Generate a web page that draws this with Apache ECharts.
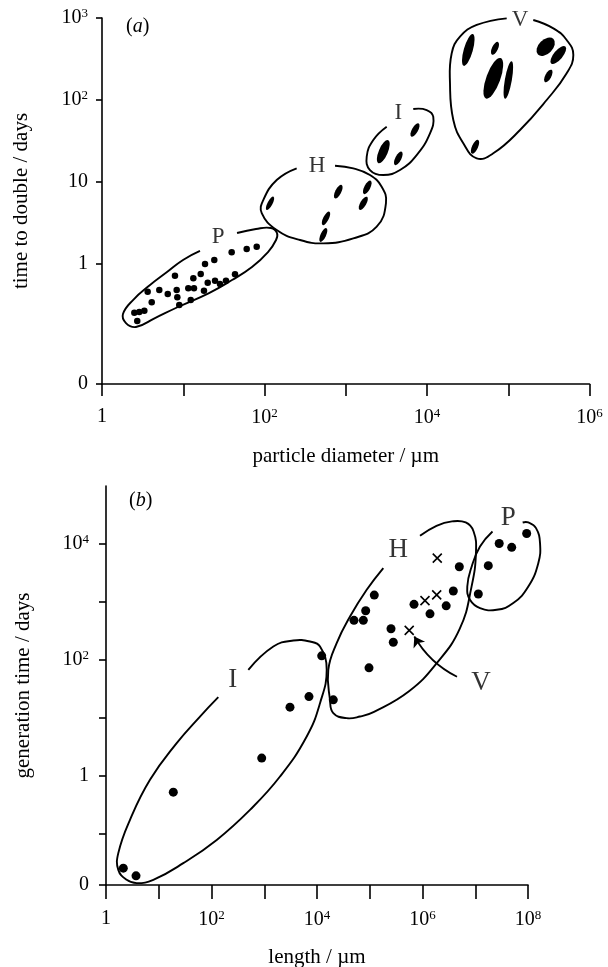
<!DOCTYPE html>
<html><head><meta charset="utf-8">
<script src="https://cdn.jsdelivr.net/npm/echarts@6/dist/echarts.min.js"></script>
<style>html,body{margin:0;padding:0;background:#fff}#c{width:608px;height:967px}</style>
</head><body><div id="c"></div>
<script>
// ---------- DATA (all values are log10 of the plotted quantity) ----------
// Panel (a): particle diameter (µm) vs time to double (days)
const aXLabelValues = [0, 2, 4, 6];
const aYMin = -1.463;               // position of the "0" label
const aYTickValues = [aYMin, 0, 1, 2, 3];
const pDotsA = [[0.434,-0.695],[0.398,-0.594],[0.459,-0.585],[0.521,-0.570],[0.612,-0.467],[0.562,-0.338],
  [0.705,-0.317],[0.809,-0.366],[0.898,-0.143],[0.919,-0.317],[0.927,-0.406],[0.951,-0.5],[1.062,-0.296],
  [1.132,-0.296],[1.092,-0.439],[1.124,-0.174],[1.215,-0.122],[1.268,0],[1.255,-0.326],[1.301,-0.228],
  [1.382,0.049],[1.391,-0.204],[1.452,-0.244],[1.526,-0.204],[1.637,-0.126],[1.596,0.143],[1.781,0.183],[1.904,0.211]];
const hBlobsA = [[2.068,0.740],[2.908,0.882],[2.757,0.557],[2.724,0.354],[3.265,0.935],[3.216,0.740]];
const iBlobsA = [[3.462,1.370],[3.647,1.289],[3.852,1.634]];
const vBlobsA = [[4.508,2.610],[4.837,2.630],[4.816,2.265],[5.001,2.244],[5.461,2.650],[5.616,2.549],[5.493,2.293],[4.591,1.430]];
const pOutlineA = [[1.206,0.159],[0.997,0.049],[0.800,-0.098],[0.591,-0.256],[0.382,-0.439],[0.258,-0.610],[0.295,-0.720],
  [0.418,-0.768],[0.652,-0.659],[0.935,-0.524],[1.317,-0.354],[1.600,-0.195],[1.846,-0.037],[2.043,0.146],[2.142,0.293],
  [2.154,0.378],[2.080,0.439],[1.895,0.427],[1.662,0.378]];
const hOutlineA = [[2.396,1.167],[2.150,1.024],[1.985,0.780],[1.966,0.622],[2.150,0.415],[2.437,0.293],[2.724,0.252],
  [3.093,0.313],[3.381,0.455],[3.495,0.744],[3.442,0.943],[3.298,1.085],[3.093,1.167],[2.868,1.199]];
const iOutlineA = [[3.504,1.674],[3.339,1.512],[3.258,1.309],[3.298,1.146],[3.462,1.085],[3.668,1.146],[3.873,1.329],
  [4.037,1.594],[4.077,1.796],[3.996,1.878],[3.831,1.890]];
const vOutlineA = [[4.981,2.996],[4.612,2.915],[4.406,2.772],[4.304,2.570],[4.283,2.204],[4.324,1.756],[4.447,1.472],
  [4.612,1.289],[4.816,1.350],[5.145,1.634],[5.473,2.0],[5.719,2.326],[5.801,2.549],[5.719,2.732],[5.555,2.874],[5.308,2.976]];
const groupLabelsA = [{name:'P', value:[1.428,0.329]},{name:'H', value:[2.646,1.195]},{name:'I', value:[3.647,1.841]},{name:'V', value:[5.145,2.976]}];

// Panel (b): length (µm) vs generation time (days)
const bXLabelValues = [0, 2, 4, 6, 8];
const bYMin = -1.89;
const bYTickValues = [bYMin, -1, 0, 1, 2, 3, 4];
const bYLabelValues = [bYMin, 0, 2, 4];
const iDotsB = [[0.328,-1.599],[0.569,-1.732],[1.276,-0.287],[2.952,0.301],[3.488,1.181],[3.848,1.364],[4.089,2.067]];
const hDotsB = [[4.309,1.307],[4.986,1.860],[5.446,2.301],[5.403,2.534],[4.701,2.680],[4.878,2.680],[4.923,2.845],
  [5.086,3.116],[5.839,2.957],[6.142,2.793],[6.449,2.931],[6.584,3.187],[6.698,3.605]];
const pDotsB = [[7.058,3.135],[7.247,3.625],[7.454,4.007],[7.691,3.941],[7.975,4.180]];
const vCrossesB = [[6.280,3.755],[6.047,3.021],[6.269,3.121],[5.748,2.508]];
const iOutlineB = [[2.129,1.354],[1.782,1.019],[1.340,0.560],[0.834,-0.074],[0.455,-0.765],[0.233,-1.340],[0.233,-1.629],
  [0.392,-1.801],[0.582,-1.858],[0.897,-1.801],[1.465,-1.513],[2.099,-1.111],[2.730,-0.592],[3.299,-0.017],[3.805,0.674],
  [4.057,1.250],[4.184,1.826],[4.057,2.228],[3.867,2.314],[3.551,2.332],[3.172,2.228],[2.698,1.826]];
const hOutlineB = [[5.257,3.582],[4.942,3.207],[4.626,2.746],[4.373,2.287],[4.214,1.826],[4.246,1.307],[4.309,1.078],
  [4.563,0.991],[4.815,1.019],[5.081,1.100],[5.744,1.456],[6.265,1.936],[6.707,2.537],[6.929,3.259],[7.014,3.863],
  [6.967,4.219],[6.819,4.370],[6.559,4.389],[6.265,4.313],[5.953,4.140]];
const pOutlineB = [[7.327,4.214],[7.090,3.955],[6.933,3.610],[6.849,3.264],[6.900,3.035],[7.090,2.891],[7.407,2.862],
  [7.721,2.978],[8.006,3.264],[8.195,3.668],[8.228,4.014],[8.152,4.273],[8.006,4.370],[7.899,4.370]];
const groupLabelsB = [{name:'H', value:[5.541,3.898]},{name:'I', value:[2.402,1.653]},{name:'P', value:[7.627,4.446]},{name:'V', value:[7.109,1.596]}];
const vArrowB = [[6.654,1.705],[5.845,2.401]];

// ---------- STYLE ----------
const FONT = "'Liberation Serif','DejaVu Serif',serif";
// blob shapes: [width px, length px, lean deg (clockwise)]
const blobShapeA = [[5,15,28],[6,15,27],[5.5,15,27],[5.5,15,25],[6,15,27],[6,15,30],
  [9,25,23],[6,15,27],[6,15,30],
  [9,33,16],[6,14,25],[14,43,20],[7,38,10],[14,22,45],[9,22,40],[6,14,28],[6,15,25]];

const rich = {
  b: {fontFamily: FONT, fontSize: 20, color: '#000', lineHeight: 21, verticalAlign: 'middle'},
  s: {fontFamily: FONT, fontSize: 13, color: '#000', lineHeight: 14, verticalAlign: 'top'}
};
function expFmt(minVal) {
  return function (v) {
    if (Math.abs(v - minVal) < 1e-6) return '0';
    if (v === 0) return '1';
    if (v === 1) return '10';
    return '{b|10}{s|' + v + '}';
  };
}
const axisLine = {show: true, onZero: false, lineStyle: {color: '#000', width: 1.6}};
const nameStyle = {fontFamily: FONT, fontSize: 21, color: '#000'};
const lblBase = {fontFamily: FONT, fontSize: 20, color: '#000', rich: rich};

const allBlobs = hBlobsA.concat(iBlobsA, vBlobsA).map(function (p, i) {
  const s = blobShapeA[i];
  return {value: p, symbolSize: [s[0], s[1]], symbolRotate: -s[2]};
});

function outline(pts, xi) {
  return {type: 'custom', xAxisIndex: xi, yAxisIndex: xi, data: [0], silent: true, z: 3, clip: false,
    renderItem: function (params, api) {
      return {type: 'polyline', shape: {points: pts.map(function (p) { return api.coord(p); }), smooth: 0.45},
        style: {stroke: '#000', lineWidth: 1.9, fill: null}};
    }};
}
function labels(data, xi, size) {
  return {type: 'scatter', xAxisIndex: xi, yAxisIndex: xi, data: data, symbolSize: 1, clip: false,
    itemStyle: {color: 'rgba(0,0,0,0)'}, silent: true, z: 5,
    label: {show: true, position: 'inside', formatter: '{b}', fontFamily: FONT, fontSize: size, color: '#000'}};
}

const option = {
  animation: false,
  backgroundColor: '#fff',
  title: [
    {text: '({i|a})', left: 121, top: 12, textStyle: {fontFamily: FONT, fontSize: 20, fontWeight: 'normal', color: '#000',
      rich: {i: {fontFamily: FONT, fontSize: 20, fontStyle: 'italic', color: '#000'}}}},
    {text: '({i|b})', left: 124, top: 486, textStyle: {fontFamily: FONT, fontSize: 20, fontWeight: 'normal', color: '#000',
      rich: {i: {fontFamily: FONT, fontSize: 20, fontStyle: 'italic', color: '#000'}}}}
  ],
  grid: [
    {left: 102, right: 18.5, top: 18, height: 366, containLabel: false, outerBoundsMode: 'none'},
    {left: 106, right: 80, top: 486, height: 399, containLabel: false, outerBoundsMode: 'none'}
  ],
  xAxis: [
    {gridIndex: 0, type: 'value', min: 0, max: 6, interval: 1, axisLine: axisLine, splitLine: {show: false},
      axisTick: {show: true, inside: false, length: 12, lineStyle: {color: '#000', width: 1.6}},
      axisLabel: Object.assign({customValues: aXLabelValues, formatter: expFmt(-99), margin: 23}, lblBase),
      name: 'particle diameter / µm', nameLocation: 'middle', nameGap: 62, nameTextStyle: nameStyle},
    {gridIndex: 1, type: 'value', min: 0, max: 8, interval: 1, axisLine: axisLine, splitLine: {show: false},
      axisTick: {show: true, inside: false, length: 14, lineStyle: {color: '#000', width: 1.6}},
      axisLabel: Object.assign({customValues: bXLabelValues, formatter: expFmt(-99), margin: 24}, lblBase),
      name: 'length / µm', nameLocation: 'middle', nameGap: 62, nameTextStyle: nameStyle}
  ],
  yAxis: [
    {gridIndex: 0, type: 'value', min: aYMin, max: 3, axisLine: axisLine, splitLine: {show: false},
      axisTick: {show: true, inside: false, length: 6, customValues: aYTickValues, lineStyle: {color: '#000', width: 1.6}},
      axisLabel: Object.assign({customValues: aYTickValues, formatter: expFmt(aYMin), margin: 14}, lblBase),
      name: 'time to double / days', nameLocation: 'middle', nameGap: 70, nameTextStyle: nameStyle},
    {gridIndex: 1, type: 'value', min: bYMin, max: 5, axisLine: axisLine, splitLine: {show: false},
      axisTick: {show: true, inside: false, length: 7, customValues: bYTickValues, lineStyle: {color: '#000', width: 1.6}},
      axisLabel: Object.assign({customValues: bYLabelValues, formatter: expFmt(bYMin), margin: 17}, lblBase),
      name: 'generation time / days', nameLocation: 'middle', nameGap: 72, nameTextStyle: nameStyle}
  ],
  series: [
    {type: 'scatter', xAxisIndex: 0, yAxisIndex: 0, data: pDotsA, symbolSize: 6.5, itemStyle: {color: '#000', opacity: 1}, silent: true, z: 4},
    {type: 'scatter', xAxisIndex: 0, yAxisIndex: 0, data: allBlobs, symbol: 'circle', itemStyle: {color: '#000', opacity: 1}, silent: true, z: 4},
    outline(pOutlineA, 0), outline(hOutlineA, 0), outline(iOutlineA, 0), outline(vOutlineA, 0),
    labels(groupLabelsA, 0, 23),
    {type: 'scatter', xAxisIndex: 1, yAxisIndex: 1, data: iDotsB.concat(hDotsB, pDotsB), symbolSize: 9, itemStyle: {color: '#000', opacity: 1}, silent: true, z: 4},
    {type: 'scatter', xAxisIndex: 1, yAxisIndex: 1, data: vCrossesB, symbol: 'path://M0 0L10 10M10 0L0 10', symbolSize: 9,
      itemStyle: {color: 'rgba(0,0,0,0)', borderColor: '#000', borderWidth: 1.6, opacity: 1}, silent: true, z: 4},
    outline(iOutlineB, 1), outline(hOutlineB, 1), outline(pOutlineB, 1),
    labels(groupLabelsB, 1, 27),
    {type: 'lines', coordinateSystem: 'cartesian2d', xAxisIndex: 1, yAxisIndex: 1, silent: true, z: 4,
      data: [{coords: vArrowB}], symbol: ['none', 'arrow'], symbolSize: [0, 10],
      lineStyle: {color: '#000', width: 1.8, curveness: 0.15, opacity: 1}}
  ]
};
const chart = echarts.init(document.getElementById('c'), null, {renderer: 'canvas'});
chart.setOption(option);
</script>
</body></html>
